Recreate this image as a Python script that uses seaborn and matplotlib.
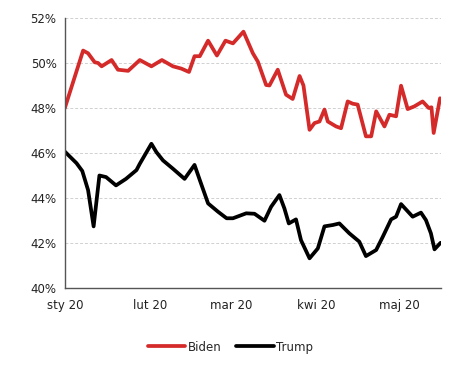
import matplotlib
matplotlib.use("Agg")
import matplotlib.pyplot as plt
import seaborn as sns
import pandas as pd
import numpy as np

# day offsets from 1 Jan 2020
biden_days = [0, 6.6, 8.4, 10.8, 12, 13.3, 16.9, 19.2, 22.9, 27.1, 31.3, 35.1, 39.1, 42.1,
              44.9, 46.9, 48.8, 51.8, 55, 58.1, 60.8, 64.6, 68, 69.8, 72.8, 74, 77, 80,
              82.4, 84.9, 86.3, 88.5, 90.3, 92.1, 93.9, 95.1, 98.1, 99.9, 102.3, 104.1,
              105.9, 108.9, 110.8, 112.6, 115.6, 117.4, 119.8, 121.6, 124, 126.4, 129.4,
              131.6, 132.6, 133.4, 135.7]
biden_vals = [48.0, 50.55, 50.43, 50.03, 50.0, 49.85, 50.13, 49.7, 49.65, 50.13, 49.85,
              50.13, 49.85, 49.75, 49.6, 50.3, 50.3, 50.99, 50.33, 50.99, 50.87, 51.39,
              50.43, 50.06, 49.02, 49.0, 49.7, 48.59, 48.4, 49.42, 49.0, 47.03, 47.33,
              47.4, 47.93, 47.4, 47.18, 47.1, 48.29, 48.19, 48.15, 46.74, 46.74, 47.85,
              47.18, 47.7, 47.63, 48.99, 47.95, 48.07, 48.29, 48.0, 48.03, 46.89, 48.43]

trump_days = [0, 4.2, 6.3, 8.4, 10.4, 12.5, 14.9, 18.5, 22.1, 25.9, 27.1, 31.3, 33.1,
              35.5, 39.1, 43.3, 46.9, 48.8, 51.8, 55.4, 58.5, 60.8, 65.6, 68.6, 72.2,
              74.6, 77.6, 79.4, 81.0, 83.6, 85.4, 88.5, 91.5, 93.9, 96.9, 99.3, 102.9,
              106.5, 108.9, 112.6, 115.0, 118.0, 119.8, 121.6, 125.8, 128.8, 130.6, 132.4,
              133.7, 135.9]
trump_vals = [46.06, 45.55, 45.2, 44.35, 42.74, 45.0, 44.93, 44.56, 44.85, 45.24, 45.52,
              46.41, 46.04, 45.67, 45.3, 44.85, 45.47, 44.8, 43.76, 43.39, 43.1, 43.1,
              43.32, 43.3, 42.99, 43.61, 44.13, 43.54, 42.87, 43.05, 42.13, 41.32, 41.76,
              42.74, 42.8, 42.87, 42.43, 42.06, 41.42, 41.69, 42.28, 43.05, 43.17, 43.73,
              43.17, 43.35, 43.02, 42.43, 41.72, 42.01]

month_days = [0, 31, 60, 91, 121]
month_labels = ["sty 20", "lut 20", "mar 20", "kwi 20", "maj 20"]
y_ticks = [40, 42, 44, 46, 48, 50, 52]

df = pd.concat([
    pd.DataFrame({"day": biden_days, "val": biden_vals, "who": "Biden"}),
    pd.DataFrame({"day": trump_days, "val": trump_vals, "who": "Trump"}),
])

sns.set_style("white")
plt.rcParams["font.family"] = ["DejaVu Sans"]

fig = plt.figure(figsize=(4.7, 3.66), dpi=100)
ax = fig.add_axes([0.138, 0.213, 0.800, 0.738])

sns.lineplot(data=df, x="day", y="val", hue="who", palette={"Biden": "#d42a2a", "Trump": "#000000"},
             linewidth=2.7, ax=ax, sort=True, estimator=None)
for ln in ax.get_lines():
    ln.set_solid_joinstyle("round")
    ln.set_solid_capstyle("round")

ax.set_xlim(0, 136)
ax.set_ylim(40, 52)
ax.set_yticks(y_ticks)
ax.set_yticklabels([f"{v}%" for v in y_ticks], fontsize=8.5, color="#222222")
ax.set_xticks(month_days)
ax.set_xticklabels(month_labels, fontsize=8.5, color="#222222")
ax.set_xlabel("")
ax.set_ylabel("")
ax.yaxis.grid(True, linestyle=(0, (3, 2)), color="#d0d0d0", linewidth=0.7)
ax.set_axisbelow(True)
for s in ["top", "right"]:
    ax.spines[s].set_visible(False)
for s in ["left", "bottom"]:
    ax.spines[s].set_color("#555555")
    ax.spines[s].set_linewidth(1.0)
ax.tick_params(axis="y", length=4, width=0.9, color="#555555", direction="out", pad=2)
ax.tick_params(axis="x", length=0, pad=8)

leg = ax.legend(loc="upper center", bbox_to_anchor=(0.44, -0.155), ncol=2, frameon=False,
                fontsize=8.5, handlelength=3.2, handletextpad=0.2, columnspacing=1.2)
for line in leg.get_lines():
    line.set_linewidth(2.7)

fig.savefig("out.png", dpi=100)
